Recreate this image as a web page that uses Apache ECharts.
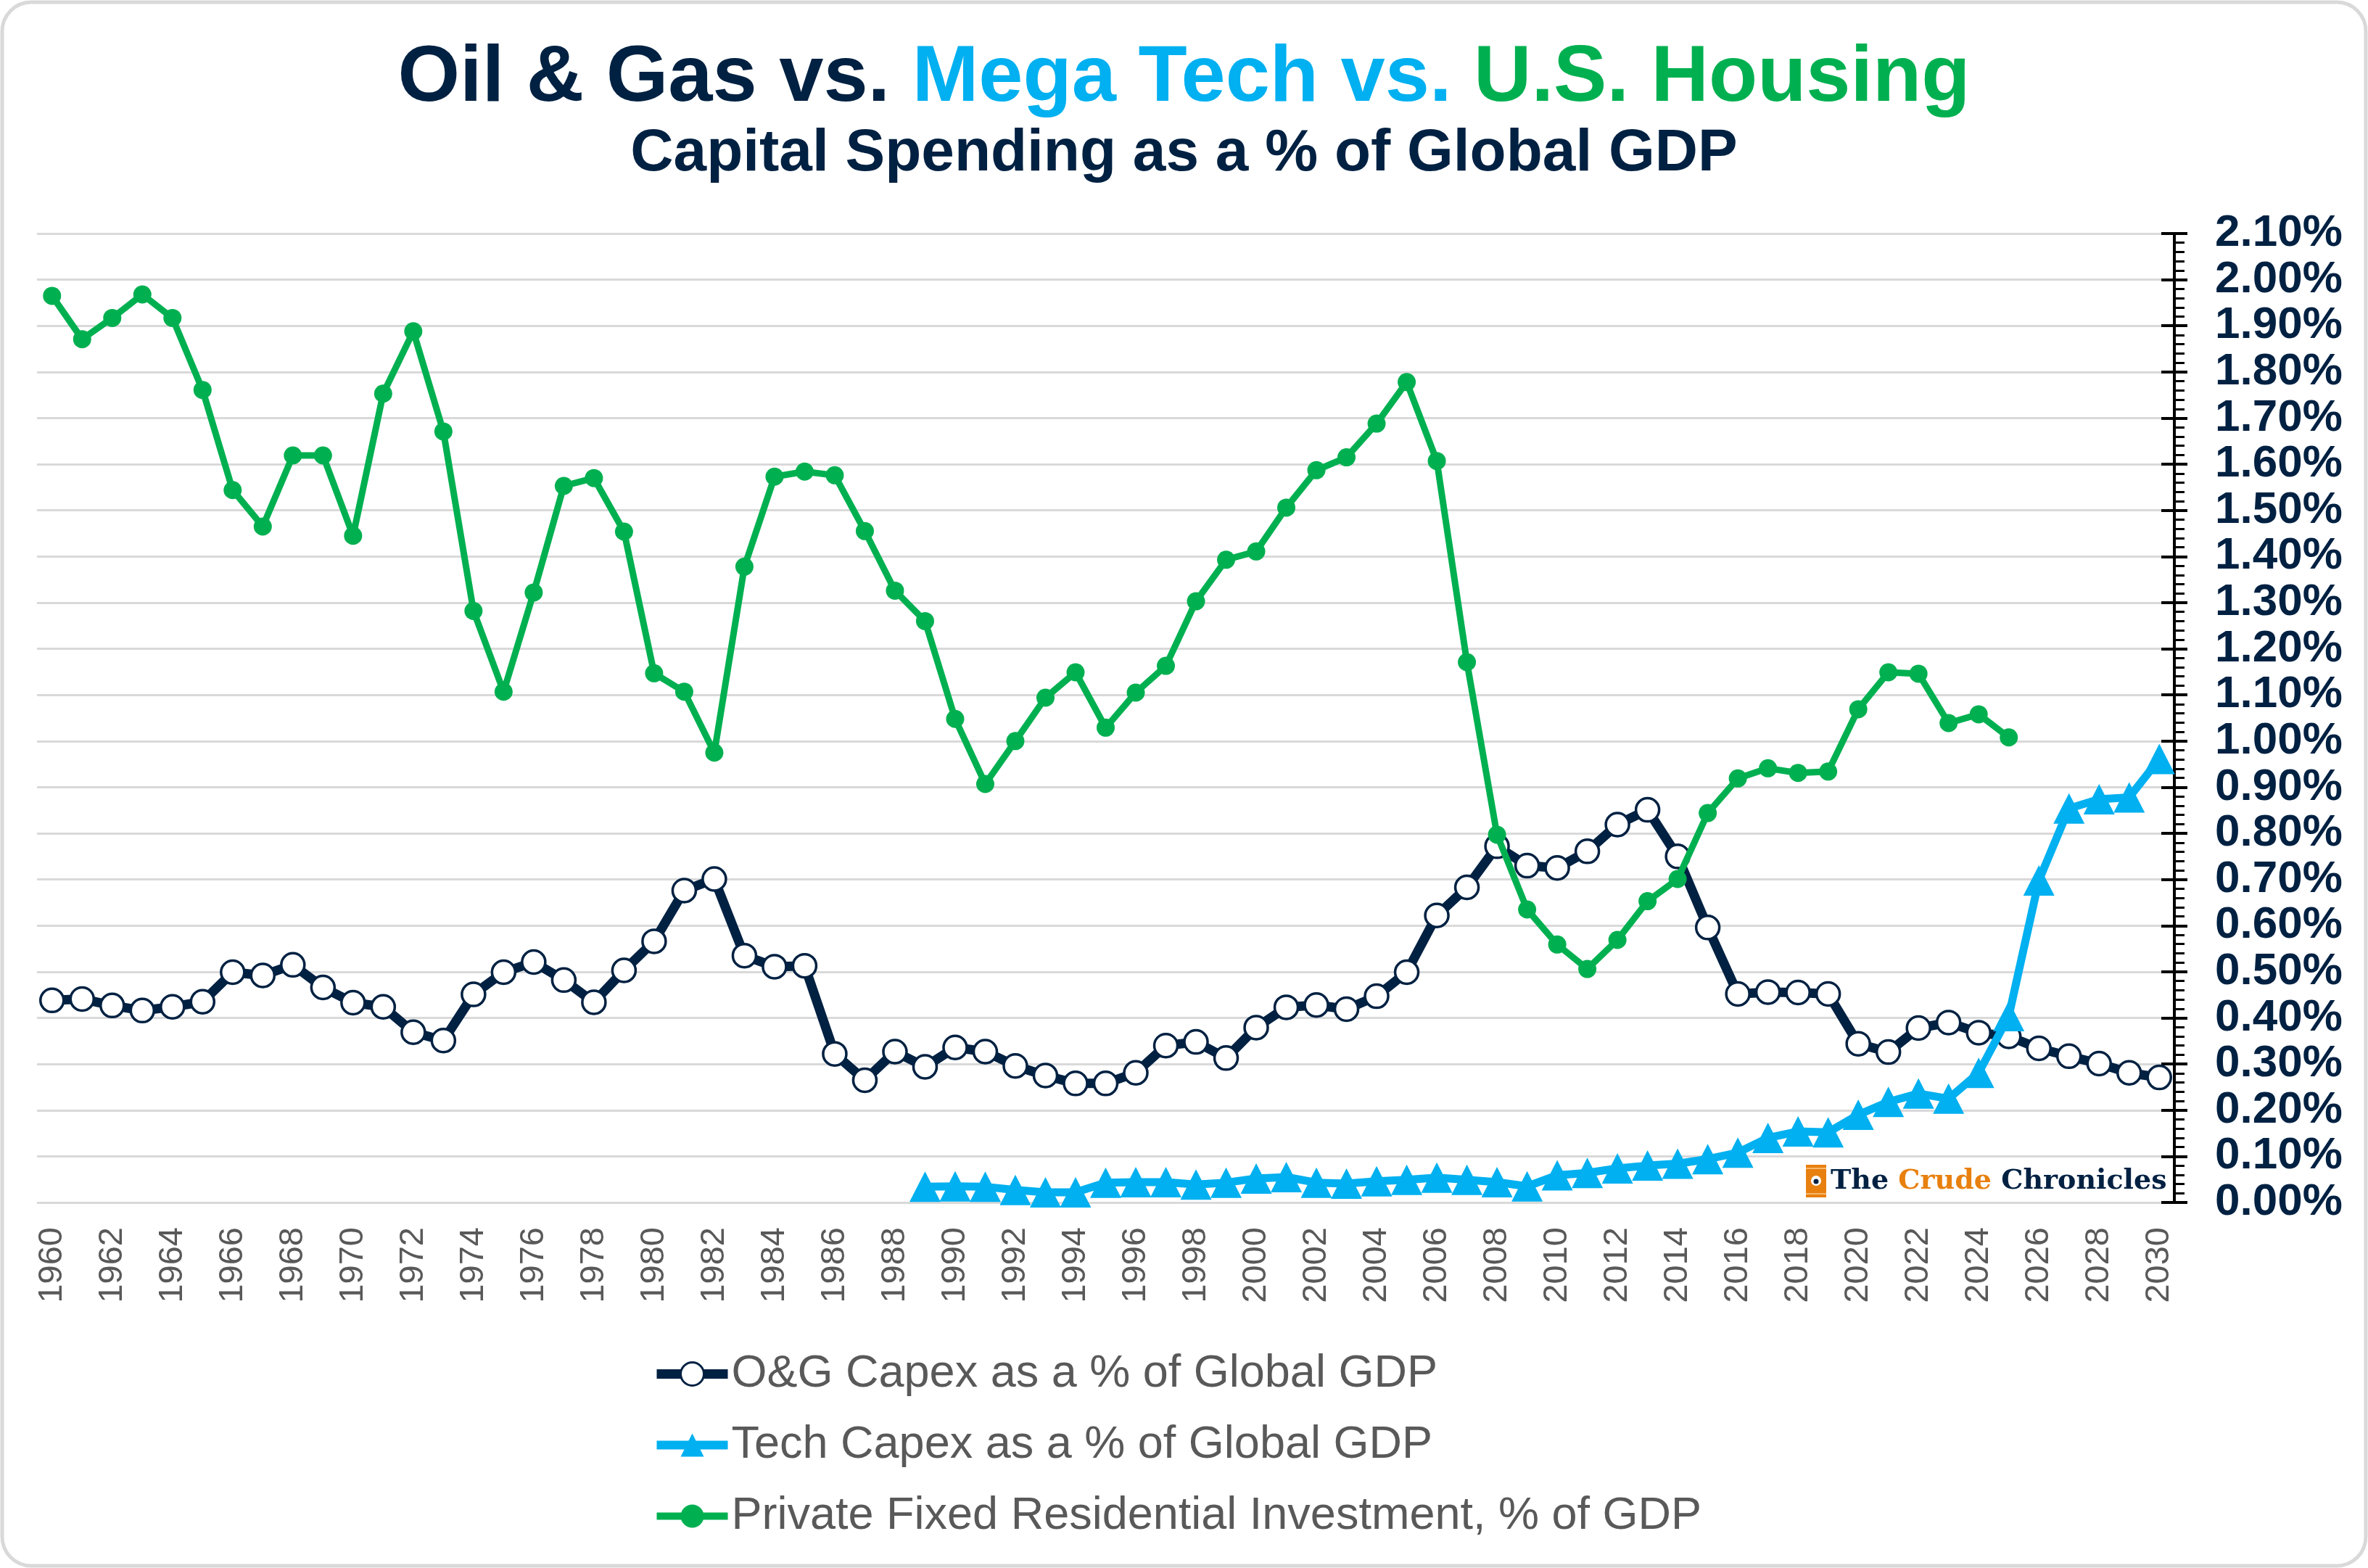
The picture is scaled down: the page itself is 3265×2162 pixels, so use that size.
<!DOCTYPE html>
<html>
<head>
<meta charset="utf-8">
<title>Oil & Gas vs. Mega Tech vs. U.S. Housing</title>
<script src="https://cdn.jsdelivr.net/npm/echarts@6/dist/echarts.min.js"></script>
<style>
  html, body { margin: 0; padding: 0; background: #fff; }
  #chart { width: 3265px; height: 2162px; }
</style>
</head>
<body>
<div id="chart"></div>
<script>
// years on the x axis
const years = [
  '1960','1961','1962','1963','1964','1965','1966','1967','1968','1969',
  '1970','1971','1972','1973','1974','1975','1976','1977','1978','1979',
  '1980','1981','1982','1983','1984','1985','1986','1987','1988','1989',
  '1990','1991','1992','1993','1994','1995','1996','1997','1998','1999',
  '2000','2001','2002','2003','2004','2005','2006','2007','2008','2009',
  '2010','2011','2012','2013','2014','2015','2016','2017','2018','2019',
  '2020','2021','2022','2023','2024','2025','2026','2027','2028','2029',
  '2030'
]

// O&G capex, % of global GDP, 1960-2030
const ogCapex = [
  0.438, 0.441, 0.427, 0.416, 0.424, 0.435, 0.499, 0.492, 0.515, 0.466,
  0.433, 0.424, 0.369, 0.351, 0.451, 0.499, 0.521, 0.482, 0.434, 0.503,
  0.566, 0.676, 0.701, 0.535, 0.511, 0.513, 0.322, 0.265, 0.327, 0.294,
  0.336, 0.327, 0.296, 0.275, 0.258, 0.258, 0.281, 0.340, 0.348, 0.313,
  0.379, 0.423, 0.428, 0.419, 0.447, 0.499, 0.622, 0.683, 0.772, 0.730,
  0.725, 0.761, 0.819, 0.851, 0.750, 0.596, 0.452, 0.456, 0.455, 0.452,
  0.344, 0.326, 0.378, 0.390, 0.368, 0.360, 0.334, 0.317, 0.301, 0.281,
  0.271
]

// tech capex, % of global GDP, starts 1989
const techStart = '1989'
const techCapex = [
  0.034, 0.035, 0.034, 0.027, 0.022, 0.022, 0.043, 0.044, 0.044, 0.039,
  0.043, 0.052, 0.055, 0.043, 0.041, 0.046, 0.049, 0.054, 0.049, 0.044,
  0.035, 0.059, 0.064, 0.074, 0.080, 0.084, 0.094, 0.108, 0.140, 0.154,
  0.152, 0.190, 0.218, 0.236, 0.225, 0.281, 0.404, 0.698, 0.854, 0.874,
  0.878, 0.961
]

// US private fixed residential investment, % of GDP, 1960-2025
const housing = [
  1.965, 1.871, 1.917, 1.968, 1.917, 1.761, 1.544, 1.465, 1.619, 1.619,
  1.445, 1.753, 1.888, 1.671, 1.282, 1.107, 1.322, 1.553, 1.570, 1.454,
  1.147, 1.107, 0.975, 1.378, 1.573, 1.584, 1.576, 1.455, 1.326, 1.260,
  1.048, 0.907, 1.000, 1.094, 1.149, 1.029, 1.105, 1.163, 1.303, 1.393,
  1.411, 1.506, 1.587, 1.615, 1.688, 1.778, 1.607, 1.171, 0.797, 0.635,
  0.559, 0.506, 0.569, 0.653, 0.701, 0.844, 0.919, 0.941, 0.931, 0.934,
  1.069, 1.149, 1.146, 1.039, 1.058, 1.008
]

const seriesNames = [
  'O&G Capex as a % of Global GDP',
  'Tech Capex as a % of Global GDP',
  'Private Fixed Residential Investment, % of GDP'
]

const NAVY = '#002142'
const BLUE = '#00B0F0'
const GREEN = '#00B050'
const GREY = '#595959'
const FONT = '"Liberation Sans", Arial, sans-serif'

const techOffset = years.indexOf(techStart)
const techData = techCapex.map((v, i) => [years[techOffset + i], v])

const chart = echarts.init(document.getElementById('chart'))

const option = {
  animation: false,
  backgroundColor: '#fff',
  textStyle: { fontFamily: FONT },
  title: [
    {
      text: '{a|Oil & Gas vs. }{b|Mega Tech vs. }{c|U.S. Housing}',
      left: 'center',
      top: 54,
      padding: 0,
      textStyle: {
        rich: {
          a: { color: NAVY, fontSize: 110, lineHeight: 110, fontWeight: 'bold', fontFamily: FONT },
          b: { color: BLUE, fontSize: 110, lineHeight: 110, fontWeight: 'bold', fontFamily: FONT },
          c: { color: GREEN, fontSize: 110, lineHeight: 110, fontWeight: 'bold', fontFamily: FONT }
        }
      }
    },
    {
      text: 'Capital Spending as a % of Global GDP',
      left: 'center',
      top: 171,
      padding: 0,
      textStyle: { color: NAVY, fontSize: 82, lineHeight: 82, fontWeight: 'bold', fontFamily: FONT }
    }
  ],
  legend: {
    orient: 'vertical',
    left: 894,
    top: 1858,
    itemWidth: 98,
    itemHeight: 40,
    itemGap: 35,
    data: [
      { name: seriesNames[0], lineStyle: { width: 13 }, itemStyle: { borderWidth: 3 } },
      { name: seriesNames[1], lineStyle: { width: 12 } },
      { name: seriesNames[2], lineStyle: { width: 10 } }
    ],
    textStyle: { color: GREY, fontSize: 63, lineHeight: 63, fontFamily: FONT }
  },
  grid: { left: 51, right: 267, top: 322, bottom: 504, containLabel: false },
  xAxis: {
    type: 'category',
    boundaryGap: true,
    data: years,
    axisLine: { show: false },
    axisTick: { show: false },
    axisLabel: { interval: 1, rotate: 90, margin: 34, fontSize: 47, color: GREY, fontFamily: FONT },
    splitLine: { show: false }
  },
  yAxis: [
    {
      type: 'value',
      position: 'right',
      min: 0,
      max: 2.1,
      interval: 0.1,
      axisLine: { show: true, lineStyle: { color: '#000', width: 4 } },
      axisTick: { show: true, inside: false, length: 18, lineStyle: { color: '#000', width: 4 } },
      minorTick: { show: true, splitNumber: 5, length: 14, lineStyle: { color: '#000', width: 3 } },
      axisLabel: {
        margin: 56,
        fontSize: 62,
        fontWeight: 'bold',
        color: NAVY,
        fontFamily: FONT,
        formatter: v => v.toFixed(2) + '%'
      },
      splitLine: { show: true, lineStyle: { color: '#d9d9d9', width: 3 } }
    },
    {
      // inner half of the crossing major ticks
      type: 'value',
      position: 'right',
      min: 0,
      max: 2.1,
      interval: 0.1,
      axisLine: { show: false },
      axisTick: { show: true, inside: true, length: 18, lineStyle: { color: '#000', width: 4 } },
      axisLabel: { show: false },
      splitLine: { show: false }
    }
  ],
  series: [
    {
      name: seriesNames[0],
      type: 'line',
      data: ogCapex,
      symbol: 'circle',
      symbolSize: 32,
      showAllSymbol: true,
      lineStyle: { color: NAVY, width: 13 },
      itemStyle: { color: '#fff', borderColor: NAVY, borderWidth: 3.5 },
      z: 2
    },
    {
      name: seriesNames[1],
      type: 'line',
      data: techData,
      symbol: 'triangle',
      symbolSize: [43, 42],
      showAllSymbol: true,
      lineStyle: { color: BLUE, width: 11 },
      itemStyle: { color: BLUE },
      z: 3
    },
    {
      name: seriesNames[2],
      type: 'line',
      data: housing,
      symbol: 'circle',
      symbolSize: 25,
      showAllSymbol: true,
      lineStyle: { color: GREEN, width: 9 },
      itemStyle: { color: GREEN },
      z: 4
    }
  ],
  graphic: [
    {
      type: 'rect',
      silent: true,
      shape: { x: 3, y: 3, width: 3259, height: 2156, r: 40 },
      style: { fill: 'none', stroke: '#d9d9d9', lineWidth: 5 }
    },
    // logo barrel
    {
      type: 'group',
      x: 2490,
      y: 1606,
      children: [
        { type: 'rect', shape: { x: 0, y: 0, width: 28, height: 45 }, style: { fill: '#E8800F' } },
        { type: 'line', shape: { x1: 0, y1: 5, x2: 28, y2: 5 }, style: { stroke: '#F7B66A', lineWidth: 2 } },
        { type: 'line', shape: { x1: 0, y1: 40, x2: 28, y2: 40 }, style: { stroke: '#F7B66A', lineWidth: 2 } },
        { type: 'circle', shape: { cx: 14, cy: 22, r: 7 }, style: { fill: '#fff' } },
        { type: 'circle', shape: { cx: 14, cy: 23, r: 3.5 }, style: { fill: NAVY } }
      ]
    },
    {
      type: 'text',
      x: 2524,
      y: 1629,
      style: {
        text: '{a|The }{b|Crude}{a| Chronicles}',
        verticalAlign: 'middle',
        align: 'left',
        rich: {
          a: { fill: NAVY, fontSize: 38, fontWeight: 'bold', fontFamily: '"DejaVu Serif", serif' },
          b: { fill: '#E8800F', fontSize: 38, fontWeight: 'bold', fontFamily: '"DejaVu Serif", serif' }
        }
      }
    }
  ]
}

chart.setOption(option)
</script>
</body>
</html>
